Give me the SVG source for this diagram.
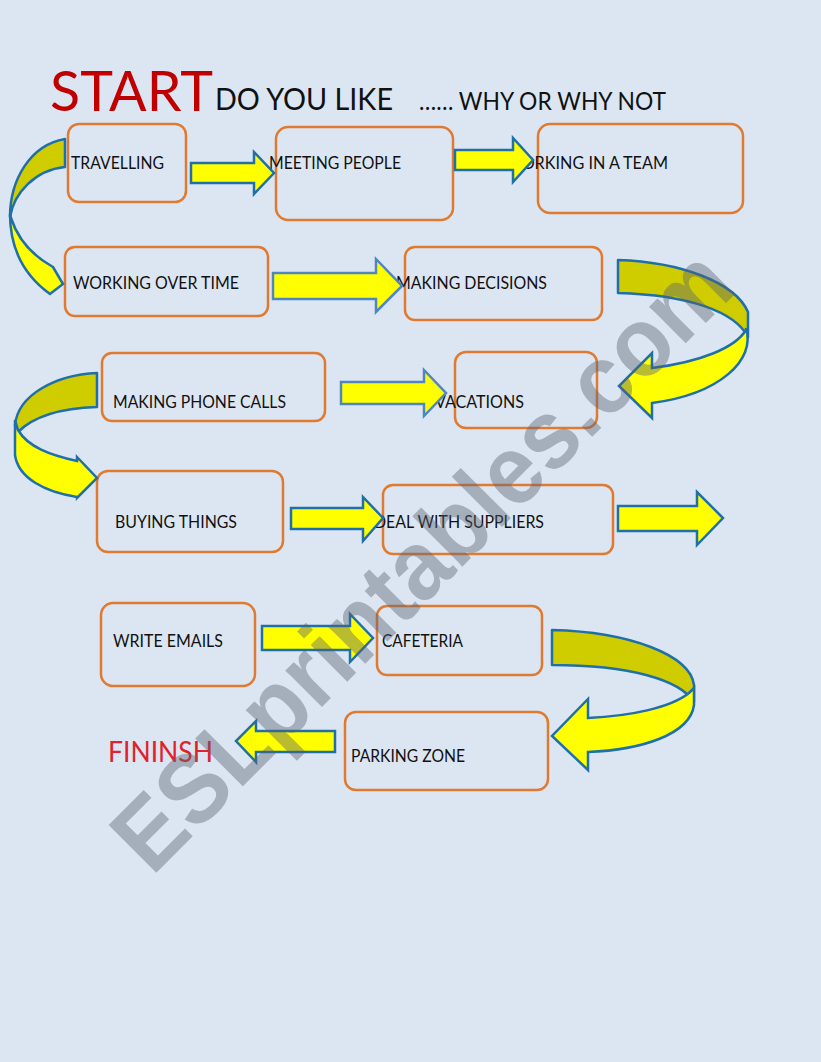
<svg xmlns="http://www.w3.org/2000/svg" width="821" height="1062" viewBox="0 0 821 1062">
<style>
.bg{fill:#dce6f2}
.box{fill:none;stroke:#e07a30;stroke-width:2.5}
.lbl{font-family:Lato,'Liberation Sans',sans-serif;font-size:16.7px;fill:#111}
.arr{fill:#ffff00;stroke:#1f6fa8;stroke-width:2.5;stroke-linejoin:miter}
.arrl{fill:#ffff00;stroke:#4f86c0;stroke-width:2.5}
.back{fill:#cfcc00;stroke:#1f6fa8;stroke-width:2.5;stroke-linejoin:round}
.front{fill:#ffff00;stroke:#1f6fa8;stroke-width:2.5;stroke-linejoin:miter}
.title{font-family:Lato,'Liberation Sans',sans-serif}
</style>
<rect class="bg" x="0" y="0" width="821" height="1062"/>

<g id="title">
<text class="title" x="50" y="111" font-size="57" fill="#c00000" textLength="163" lengthAdjust="spacingAndGlyphs">START</text>
<text class="title" x="215" y="110" font-size="31" fill="#111" textLength="178" lengthAdjust="spacingAndGlyphs">DO YOU LIKE</text>
<text class="title" x="419" y="110" font-size="25.4" fill="#111" textLength="247" lengthAdjust="spacingAndGlyphs">…… WHY OR WHY NOT</text>
</g>

<g id="n-travelling"><rect class="box" x="68" y="124" width="118" height="78" rx="11"/><text class="lbl" x="71" y="169" textLength="93" lengthAdjust="spacingAndGlyphs">TRAVELLING</text></g>
<g id="n-meeting"><rect class="box" x="276" y="127" width="177" height="93" rx="12"/><text class="lbl" x="269" y="169" textLength="132" lengthAdjust="spacingAndGlyphs">MEETING PEOPLE</text></g>
<g id="n-team"><rect class="box" x="538" y="124" width="205" height="89" rx="12"/><text class="lbl" x="505" y="169" textLength="163" lengthAdjust="spacingAndGlyphs">WORKING IN A TEAM</text></g>
<g id="n-overtime"><rect class="box" x="65" y="247" width="203" height="69" rx="10"/><text class="lbl" x="73" y="289" textLength="166" lengthAdjust="spacingAndGlyphs">WORKING OVER TIME</text></g>
<g id="n-decisions"><rect class="box" x="405" y="247" width="197" height="73" rx="10"/><text class="lbl" x="396" y="289" textLength="151" lengthAdjust="spacingAndGlyphs">MAKING DECISIONS</text></g>
<g id="n-phone"><rect class="box" x="102" y="353" width="223" height="68" rx="10"/><text class="lbl" x="113" y="408" textLength="173" lengthAdjust="spacingAndGlyphs">MAKING PHONE CALLS</text></g>
<g id="n-vacations"><rect class="box" x="455" y="352" width="142" height="76" rx="11"/><text class="lbl" x="435" y="408" textLength="89" lengthAdjust="spacingAndGlyphs">VACATIONS</text></g>
<g id="n-buying"><rect class="box" x="97" y="471" width="186" height="81" rx="11"/><text class="lbl" x="115" y="528" textLength="122" lengthAdjust="spacingAndGlyphs">BUYING THINGS</text></g>
<g id="n-suppliers"><rect class="box" x="383" y="485" width="230" height="69" rx="10"/><text class="lbl" x="374" y="528" textLength="170" lengthAdjust="spacingAndGlyphs">DEAL WITH SUPPLIERS</text></g>
<g id="n-emails"><rect class="box" x="101" y="603" width="154" height="83" rx="12"/><text class="lbl" x="113" y="647" textLength="110" lengthAdjust="spacingAndGlyphs">WRITE EMAILS</text></g>
<g id="n-cafeteria"><rect class="box" x="377" y="606" width="165" height="69" rx="10"/><text class="lbl" x="382" y="647" textLength="81" lengthAdjust="spacingAndGlyphs">CAFETERIA</text></g>
<g id="n-parking"><rect class="box" x="345" y="712" width="203" height="78" rx="11"/><text class="lbl" x="351" y="762" textLength="114" lengthAdjust="spacingAndGlyphs">PARKING ZONE</text></g>
<g id="n-finish"><text class="title" x="108" y="762" font-size="28" fill="#e0222a" textLength="105" lengthAdjust="spacingAndGlyphs">FININSH</text></g>

<g id="connectors">
<polygon class="arr" points="191,163 254,163 254,152 274,173 254,194 254,183 191,183"/>
<polygon class="arr" points="455,150 513,150 513,138 533,160 513,182 513,170 455,170"/>
<polygon class="arrl" points="273,273 376,273 376,259 402,286 376,312 376,299 273,299"/>
<polygon class="arrl" points="341,382 424,382 424,370 446,393 424,416 424,404 341,404"/>
<polygon class="arr" points="291,508 363,508 363,497 383,518 363,541 363,529 291,529"/>
<polygon class="arr" points="618,506 697,506 697,492 723,518 697,545 697,531 618,531"/>
<polygon class="arr" points="262,626 350,626 350,614 373,638 350,662 350,650 262,650"/>
<polygon class="arr" points="335,731 256,731 256,721 236,741 256,762 256,752 335,752"/>

<path class="back" d="M65,139 C30,145 10,180 10,217 C14,193 35,170 65,167 Z"/>
<path class="front" d="M10,214 C10,250 25,276 50,294 L63,284 L53,267 C35,257 19,243 11,218 Z"/>

<path class="back" d="M618,260 C680,262 735,282 748,312 L748,337 C735,312 690,295 618,293 Z"/>
<path class="front" d="M746,328 C756,360 720,394 652,403 L652,418 L619,386 L652,353 L652,368 C700,362 735,348 746,330 Z"/>

<path class="back" d="M97,373 C55,375 18,395 15,425 L18,432 C35,415 65,408 97,407 Z"/>
<path class="front" d="M15,420 L15,455 C18,478 45,492 77,497 L77,498 L97,478 L77,457 L77,461 C50,455 28,447 18,430 Z"/>

<path class="back" d="M552,630 C630,632 690,655 694,685 L694,702 C680,680 630,665 552,665 Z"/>
<path class="front" d="M694,688 L694,705 C690,735 640,750 588,752 L588,770 L552,736 L588,699 L588,718 C630,716 670,708 689,693 Z"/>
</g>

<text id="watermark" transform="translate(152,877) rotate(-45)" font-family="'Liberation Sans',Arial,sans-serif" font-weight="bold" font-size="98" fill="#5a6270" opacity="0.42" textLength="830" lengthAdjust="spacingAndGlyphs">ESLprintables.com</text>
</svg>
